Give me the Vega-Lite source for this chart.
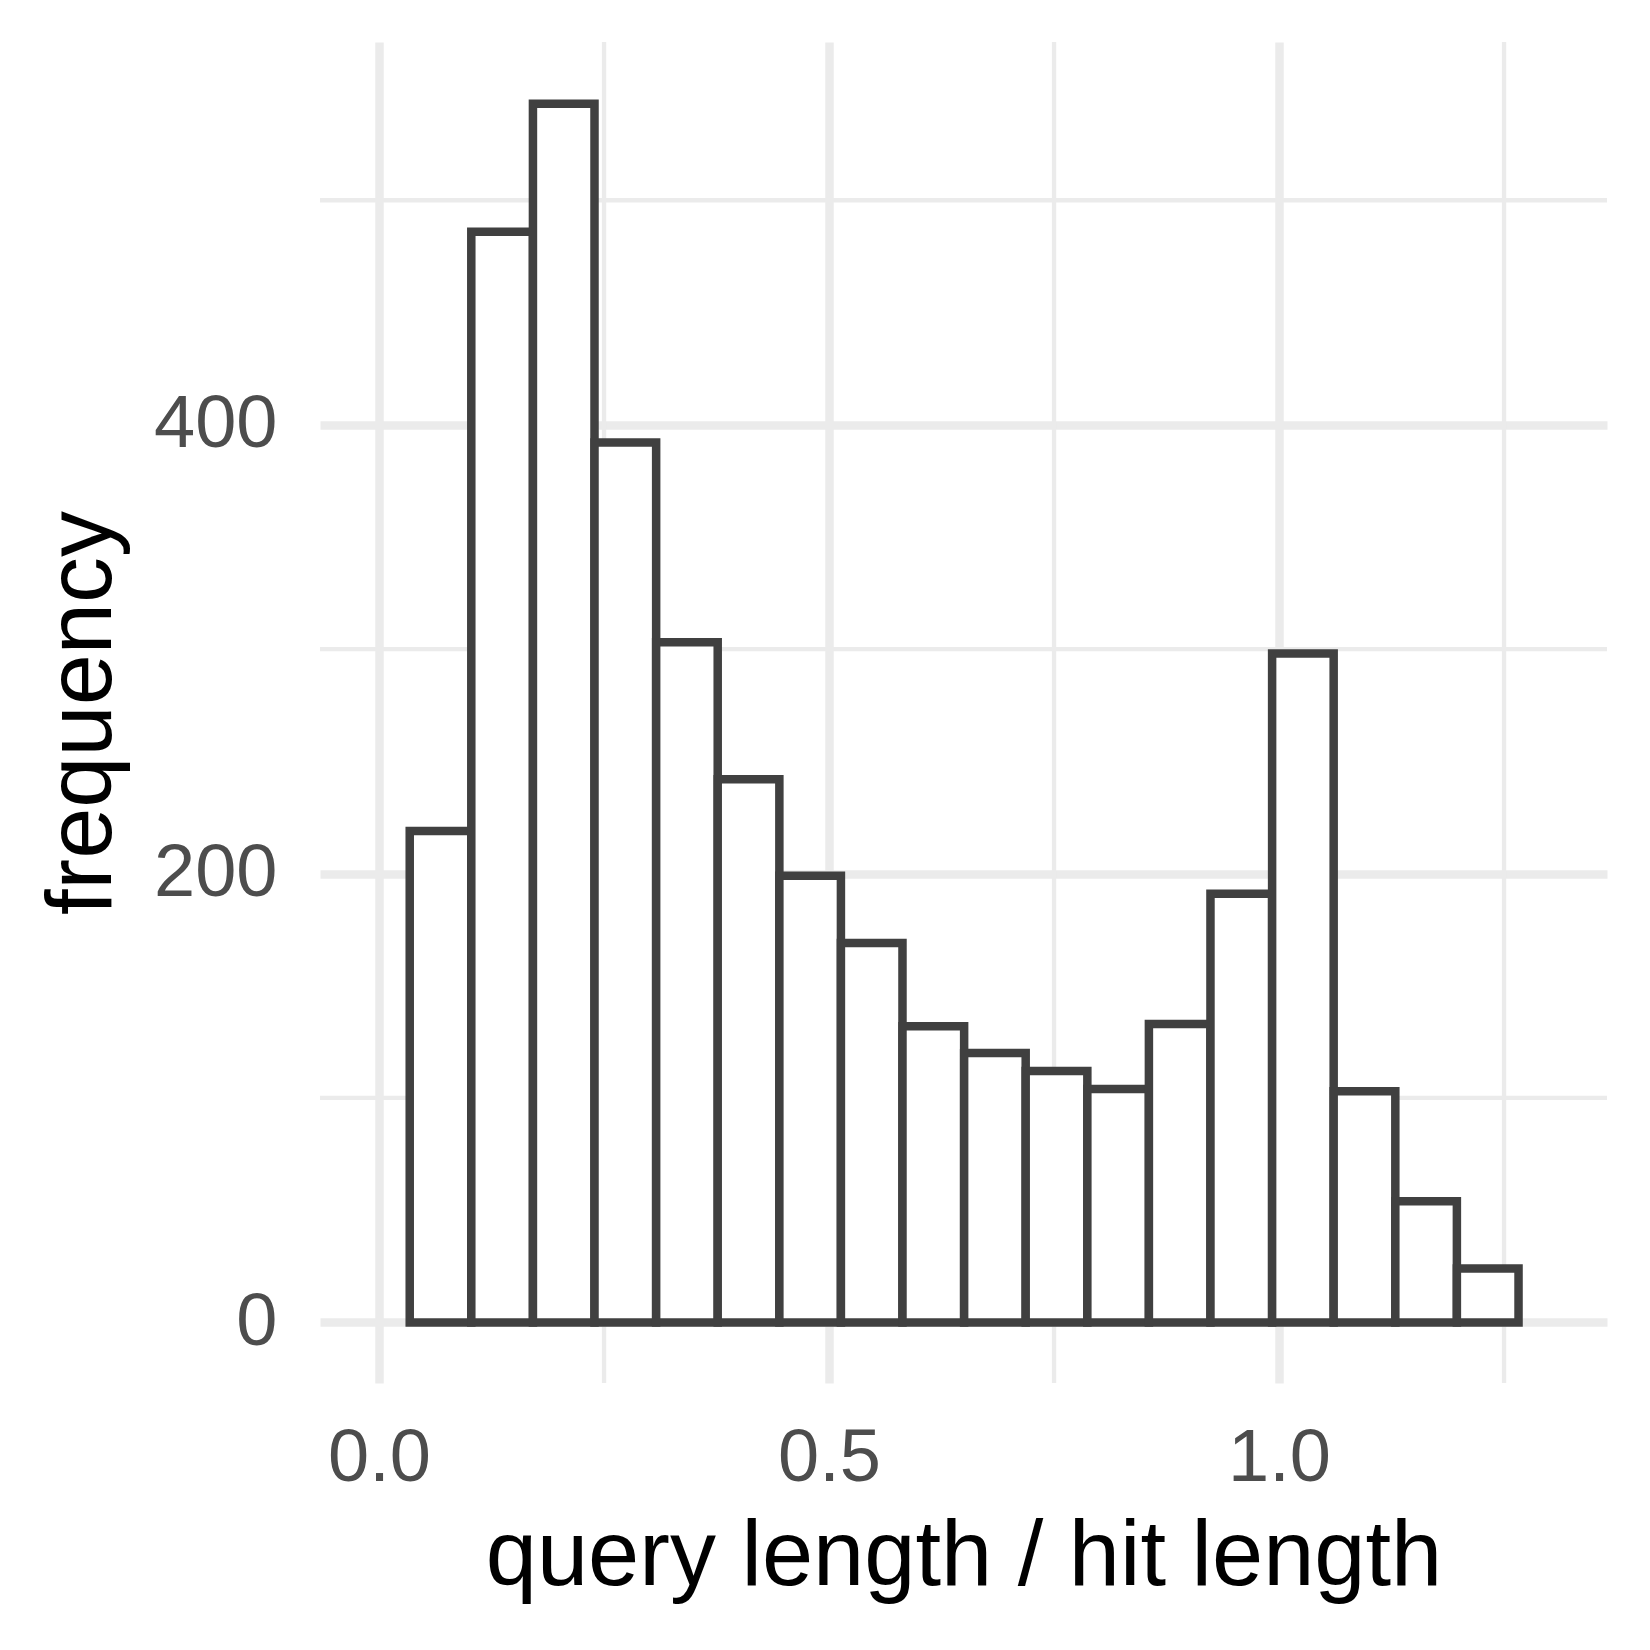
{
  "$schema": "https://vega.github.io/schema/vega-lite/v6.json",
  "width": 1287,
  "height": 1341,
  "autosize": {"type": "none"},
  "padding": {"left": 320, "top": 42, "right": 43, "bottom": 267},
  "background": "white",
  "config": {
    "view": {"stroke": null},
    "font": "Liberation Sans",
    "axis": {"domain": false, "ticks": false, "tickSize": 0, "gridColor": "#EBEBEB", "gridWidth": 8.5, "labelFont": "Liberation Sans", "titleFont": "Liberation Sans", "labelColor": "#4D4D4D", "labelFontSize": 74, "titleFontSize": 92, "titleFontWeight": "normal", "titleColor": "#000000"}
  },
  "datasets": {
    "bins": [
      {"start": 0.0341, "end": 0.1025, "count": 219},
      {"start": 0.1025, "end": 0.1710, "count": 486},
      {"start": 0.1710, "end": 0.2394, "count": 543},
      {"start": 0.2394, "end": 0.3079, "count": 392},
      {"start": 0.3079, "end": 0.3763, "count": 303},
      {"start": 0.3763, "end": 0.4448, "count": 242},
      {"start": 0.4448, "end": 0.5132, "count": 199},
      {"start": 0.5132, "end": 0.5816, "count": 169},
      {"start": 0.5816, "end": 0.6501, "count": 132},
      {"start": 0.6501, "end": 0.7185, "count": 120},
      {"start": 0.7185, "end": 0.7870, "count": 112},
      {"start": 0.7870, "end": 0.8554, "count": 104},
      {"start": 0.8554, "end": 0.9238, "count": 133},
      {"start": 0.9238, "end": 0.9923, "count": 191},
      {"start": 0.9923, "end": 1.0607, "count": 298},
      {"start": 1.0607, "end": 1.1292, "count": 103},
      {"start": 1.1292, "end": 1.1976, "count": 54},
      {"start": 1.1976, "end": 1.2661, "count": 24}
    ],
    "minorx": [{"v": 0.25}, {"v": 0.75}, {"v": 1.25}],
    "minory": [{"v": 100}, {"v": 300}, {"v": 500}]
  },
  "layer": [
    {
      "data": {"name": "minorx"},
      "mark": {"type": "rule", "color": "#EBEBEB", "strokeWidth": 4.3},
      "encoding": {
        "x": {"field": "v", "type": "quantitative", "scale": {"domain": [-0.0656, 1.3644], "nice": false, "zero": false}, "axis": {"values": [0, 0.5, 1], "format": ".1f", "labelPadding": 39.5, "title": "query length / hit length", "titleX": 643.5, "titleY": 201, "titleAlign": "center", "titleBaseline": "alphabetic"}}
      }
    },
    {
      "data": {"name": "minory"},
      "mark": {"type": "rule", "color": "#EBEBEB", "strokeWidth": 4.3},
      "encoding": {
        "y": {"field": "v", "type": "quantitative", "scale": {"domain": [-27, 570.5], "nice": false, "zero": false}, "axis": {"values": [0, 200, 400], "labelPadding": 43, "title": "frequency", "titleX": -210, "titleY": 670.5, "titleAngle": -90, "titleAlign": "center", "titleBaseline": "alphabetic"}}
      }
    },
    {
      "data": {"name": "bins"},
      "mark": {"type": "bar", "fill": "white", "stroke": "#404040", "strokeWidth": 8.5},
      "encoding": {
        "x": {"field": "start", "type": "quantitative"},
        "x2": {"field": "end"},
        "y": {"field": "count", "type": "quantitative"},
        "y2": {"datum": 0}
      }
    }
  ]
}
